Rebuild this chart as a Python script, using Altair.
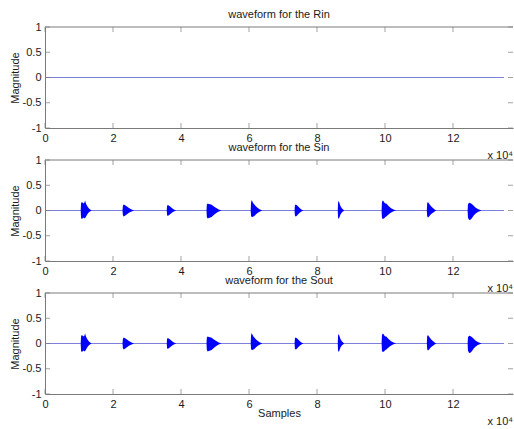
import altair as alt
import pandas as pd

# ---------------- data ----------------
X_MAX = 137650          # right end of the visible axis (samples)
SIGNAL_END = 135000     # last sample of the recordings

x_tick_values = [0, 20000, 40000, 60000, 80000, 100000, 120000]
y_tick_values = [-1, -0.5, 0, 0.5, 1]

panel_titles = ["waveform for the Rin", "waveform for the Sin", "waveform for the Sout"]

# Rin: silent far-end signal
rin_sample = [0, SIGNAL_END]
rin_value = [0, 0]

# Sin: envelope (upper / lower) of the speech bursts
sin_sample = [0,
              10500, 10600, 10800, 11000, 11200, 11400, 11600, 11800, 12000, 12250, 12600, 13000, 13700,
              22800, 22900, 23100, 23400, 23800, 24200, 24700, 25300, 26200,
              35800, 35900, 36100, 36400, 36800, 37300, 37900, 38600,
              47500, 47600, 47850, 48200, 48600, 49000, 49400, 49900, 50500, 51100, 51900,
              60500, 60600, 60800, 61000, 61300, 61600, 62000, 62500, 63100, 63900,
              73400, 73500, 73700, 74000, 74400, 74900, 75400, 76000,
              86100, 86200, 86400, 86600, 86900, 87300, 88000,
              99000, 99100, 99300, 99550, 99800, 100100, 100400, 100700, 101200, 101800, 102500, 103300,
              112300, 112400, 112600, 112850, 113200, 113600, 114100, 114600, 115100,
              124300, 124400, 124650, 124950, 125300, 125700, 126100, 126600, 127300, 128400,
              SIGNAL_END]
sin_upper = [0,
             0, 0.14, 0.17, 0.16, 0.15, 0.14, 0.16, 0.20, 0.15, 0.11, 0.07, 0.035, 0,
             0, 0.09, 0.12, 0.11, 0.095, 0.075, 0.05, 0.025, 0,
             0, 0.09, 0.11, 0.10, 0.08, 0.05, 0.02, 0,
             0, 0.12, 0.14, 0.13, 0.125, 0.115, 0.095, 0.07, 0.045, 0.02, 0,
             0, 0.16, 0.21, 0.18, 0.14, 0.12, 0.085, 0.055, 0.025, 0,
             0, 0.10, 0.12, 0.11, 0.085, 0.05, 0.02, 0,
             0, 0.16, 0.19, 0.15, 0.09, 0.045, 0,
             0, 0.16, 0.20, 0.19, 0.16, 0.14, 0.14, 0.115, 0.08, 0.045, 0.02, 0,
             0, 0.14, 0.17, 0.15, 0.115, 0.08, 0.05, 0.02, 0,
             0, 0.12, 0.15, 0.155, 0.14, 0.12, 0.095, 0.06, 0.03, 0,
             0]
sin_lower = [0,
             0, -0.14, -0.17, -0.16, -0.15, -0.14, -0.16, -0.15, -0.13, -0.10, -0.06, -0.03, 0,
             0, -0.09, -0.12, -0.11, -0.09, -0.07, -0.045, -0.025, 0,
             0, -0.09, -0.11, -0.095, -0.075, -0.045, -0.02, 0,
             0, -0.13, -0.16, -0.15, -0.14, -0.13, -0.105, -0.075, -0.045, -0.02, 0,
             0, -0.11, -0.13, -0.13, -0.12, -0.11, -0.08, -0.05, -0.025, 0,
             0, -0.10, -0.12, -0.11, -0.08, -0.045, -0.02, 0,
             0, -0.14, -0.17, -0.14, -0.08, -0.04, 0,
             0, -0.14, -0.17, -0.165, -0.155, -0.13, -0.12, -0.10, -0.07, -0.04, -0.015, 0,
             0, -0.11, -0.14, -0.13, -0.10, -0.07, -0.045, -0.02, 0,
             0, -0.14, -0.18, -0.19, -0.175, -0.14, -0.10, -0.065, -0.03, 0,
             0]

# Sout: echo-canceller output, practically identical to Sin
sout_sample = list(sin_sample)
sout_upper = list(sin_upper)
sout_lower = list(sin_lower)

# ---------------- styling ----------------
FONT = "Liberation Sans"
FRAME = "#7a7a7a"
TEXT = "#1a1a1a"
LINE_BLUE = "#7c80dc"
FILL_BLUE = "#0000ff"
W, H = 468, 101

x_scale = alt.Scale(domain=[0, X_MAX], nice=False, zero=False)
y_scale = alt.Scale(domain=[-1, 1], nice=False)


def panel(title, base_df, env_df, bottom_title=None):
    x_axis = alt.Axis(values=x_tick_values, labelExpr="'' + datum.value / 10000",
                      ticks=False, grid=False, domain=True, domainColor=FRAME,
                      labelPadding=4, labelFlush=False, labelOverlap=False,
                      title=bottom_title if bottom_title else "", titlePadding=-2)
    y_axis = alt.Axis(values=y_tick_values, labelExpr="'' + datum.value",
                      ticks=False, grid=False, domain=True, domainColor=FRAME,
                      labelPadding=4, labelOverlap=False,
                      title="Magnitude", titlePadding=2)

    def X(field):
        return alt.X(field, scale=x_scale, axis=x_axis)

    def Y(field):
        return alt.Y(field, scale=y_scale, axis=y_axis)

    line = alt.Chart(base_df).mark_line(color=LINE_BLUE, strokeWidth=1).encode(
        x=X("sample:Q"), y=Y("value:Q"),
    )
    layers = [line]
    if env_df is not None:
        area = alt.Chart(env_df).mark_area(color=FILL_BLUE, opacity=1).encode(
            x=X("sample:Q"), y=Y("upper:Q"), y2="lower:Q",
        )
        layers.append(area)

    xt = pd.DataFrame({"t": x_tick_values, "lo": [-1] * len(x_tick_values),
                       "hi": [1] * len(x_tick_values)})
    yt = pd.DataFrame({"t": y_tick_values, "lo": [0] * len(y_tick_values),
                       "hi": [X_MAX] * len(y_tick_values)})
    one = pd.DataFrame({"x0": [0], "x1": [X_MAX], "ytop": [1], "ybot": [-1]})

    bottom_ticks = alt.Chart(xt).mark_tick(orient="vertical", size=5, thickness=1,
                                           color=FRAME, yOffset=-2.5).encode(
        x=X("t:Q"), y=Y("lo:Q"))
    top_ticks = alt.Chart(xt).mark_tick(orient="vertical", size=5, thickness=1,
                                        color=FRAME, yOffset=2.5).encode(
        x=X("t:Q"), y=Y("hi:Q"))
    left_ticks = alt.Chart(yt).mark_tick(orient="horizontal", size=5, thickness=1,
                                         color=FRAME, xOffset=2.5).encode(
        y=Y("t:Q"), x=X("lo:Q"))
    right_ticks = alt.Chart(yt).mark_tick(orient="horizontal", size=5, thickness=1,
                                          color=FRAME, xOffset=-2.5).encode(
        y=Y("t:Q"), x=X("hi:Q"))
    top_rule = alt.Chart(one).mark_rule(color=FRAME, strokeWidth=1).encode(
        x=X("x0:Q"), x2="x1:Q", y=Y("ytop:Q"))
    exp_text = alt.Chart(one).mark_text(text="x 10\u2074", align="right", baseline="middle",
                                        dy=28, font=FONT, fontSize=11, color=TEXT).encode(
        x=X("x1:Q"), y=Y("ybot:Q"))

    layers += [bottom_ticks, top_ticks, left_ticks, right_ticks, top_rule, exp_text]
    return alt.layer(*layers).properties(
        width=W, height=H,
        title=alt.TitleParams(title, font=FONT, fontSize=11, fontWeight="normal",
                              color=TEXT, offset=1, anchor="middle"),
    )


rin_df = pd.DataFrame({"sample": rin_sample, "value": rin_value})
base_df = pd.DataFrame({"sample": [0, SIGNAL_END], "value": [0, 0]})
sin_df = pd.DataFrame({"sample": sin_sample, "upper": sin_upper, "lower": sin_lower})
sout_df = pd.DataFrame({"sample": sout_sample, "upper": sout_upper, "lower": sout_lower})

chart = alt.vconcat(
    panel(panel_titles[0], rin_df, None),
    panel(panel_titles[1], base_df, sin_df),
    panel(panel_titles[2], base_df, sout_df, bottom_title="Samples"),
    spacing=32, bounds="flush",
).properties(
    padding={"left": 9, "top": 9, "right": 0, "bottom": 0},
    background="white",
).configure_view(stroke=None).configure_axis(
    labelFont=FONT, labelFontSize=11, labelColor=TEXT,
    titleFont=FONT, titleFontSize=11, titleFontWeight="normal", titleColor=TEXT,
)

chart.save("out.html", embed_options={"renderer": "svg", "actions": False})
